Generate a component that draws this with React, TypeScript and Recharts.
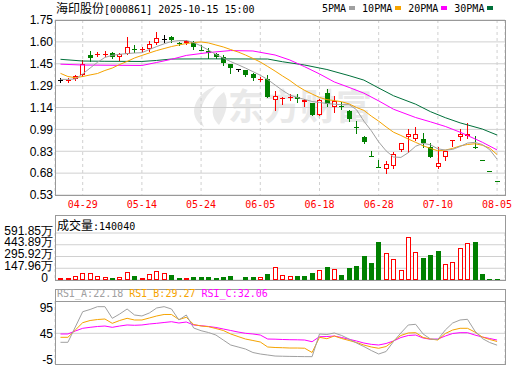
import React from 'react';
import { ComposedChart, Bar, Line, XAxis, YAxis, CartesianGrid, ReferenceLine } from 'recharts';

// date labels under the price panel, and the candle index each sits on
const dateLabels = ['04-29', '05-14', '05-24', '06-05', '06-18', '06-28', '07-10', '08-05'];
const dateTicks = [3, 11, 19, 27, 35, 43, 51, 59];

// daily candles (price, yuan)
const opens = [
  1.33, 1.33, 1.338, 1.37, 1.506, 1.508, 1.512, 1.517, 1.49, 1.515,
  1.545, 1.541, 1.548, 1.588, 1.618, 1.629, 1.59, 1.588, 1.599, 1.541,
  1.534, 1.513, 1.49, 1.443, 1.41, 1.401, 1.374, 1.336, 1.341, 1.195,
  1.205, 1.208, 1.213, 1.18, 1.171, 1.086, 1.243, 1.145, 1.152, 1.118,
  1.006, 0.934, 0.805, 0.726, 0.711, 0.735, 0.846, 0.937, 0.92, 0.92,
  0.863, 0.727, 0.797, 0.909, 0.937, 0.943, 0.867, 0.775, 0.696, 0.627,
];
const highs = [
  1.345, 1.345, 1.367, 1.47, 1.536, 1.525, 1.534, 1.525, 1.52, 1.631,
  1.576, 1.562, 1.606, 1.664, 1.645, 1.638, 1.6, 1.61, 1.606, 1.576,
  1.553, 1.522, 1.506, 1.443, 1.41, 1.404, 1.378, 1.355, 1.367, 1.255,
  1.211, 1.234, 1.234, 1.197, 1.173, 1.197, 1.267, 1.222, 1.176, 1.125,
  1.046, 0.941, 0.837, 0.774, 0.769, 0.832, 0.893, 0.988, 1.004, 0.962,
  0.893, 0.867, 0.84, 0.911, 0.988, 1.03, 0.941, 0.775, 0.696, 0.627,
];
const lows = [
  1.32, 1.318, 1.33, 1.36, 1.464, 1.497, 1.497, 1.483, 1.469, 1.515,
  1.525, 1.525, 1.534, 1.583, 1.595, 1.599, 1.578, 1.585, 1.546, 1.538,
  1.483, 1.485, 1.438, 1.383, 1.397, 1.36, 1.332, 1.327, 1.215, 1.123,
  1.164, 1.192, 1.18, 1.153, 1.085, 1.085, 1.153, 1.107, 1.127, 1.048,
  0.96, 0.895, 0.8, 0.723, 0.686, 0.716, 0.839, 0.828, 0.911, 0.867,
  0.797, 0.716, 0.772, 0.874, 0.913, 0.925, 0.86, 0.774, 0.695, 0.626,
];
const closes = [
  1.33, 1.335, 1.362, 1.443, 1.483, 1.512, 1.516, 1.49, 1.51, 1.562,
  1.541, 1.545, 1.583, 1.627, 1.618, 1.611, 1.587, 1.606, 1.56, 1.538,
  1.518, 1.494, 1.452, 1.415, 1.41, 1.369, 1.346, 1.341, 1.215, 1.218,
  1.209, 1.212, 1.199, 1.19, 1.086, 1.192, 1.162, 1.185, 1.148, 1.058,
  1.0, 0.897, 0.8, 0.723, 0.745, 0.814, 0.89, 0.955, 0.955, 0.89,
  0.797, 0.751, 0.837, 0.911, 0.953, 0.953, 0.863, 0.774, 0.695, 0.626,
];

// moving averages
const ma5 = [
  1.336, 1.336, 1.339, 1.374, 1.415, 1.455, 1.489, 1.504, 1.511, 1.516,
  1.52, 1.522, 1.544, 1.565, 1.584, 1.6, 1.607, 1.607, 1.593, 1.569,
  1.54, 1.51, 1.485, 1.46, 1.438, 1.415, 1.39, 1.365, 1.335, 1.297,
  1.259, 1.227, 1.21, 1.196, 1.182, 1.175, 1.168, 1.163, 1.16, 1.16,
  1.125, 1.045, 0.978, 0.9, 0.838, 0.795, 0.792, 0.825, 0.87, 0.89,
  0.88, 0.852, 0.843, 0.848, 0.868, 0.892, 0.897, 0.882, 0.846, 0.78,
];
const ma10 = [
  1.378, 1.356, 1.348, 1.356, 1.367, 1.377, 1.398, 1.415, 1.44, 1.461,
  1.485, 1.503, 1.52, 1.537, 1.551, 1.565, 1.576, 1.586, 1.593, 1.597,
  1.59, 1.576, 1.562, 1.544, 1.527, 1.506, 1.482, 1.457, 1.426, 1.394,
  1.36, 1.328, 1.29, 1.259, 1.234, 1.21, 1.195, 1.188, 1.18, 1.165,
  1.14, 1.12, 1.08, 1.045, 1.005, 0.968, 0.945, 0.92, 0.897, 0.873,
  0.855, 0.838, 0.843, 0.855, 0.872, 0.882, 0.887, 0.877, 0.857, 0.812,
];
const ma20At = [0, 3, 11, 13, 15, 17, 20, 23, 26, 29, 31, 33, 35, 37, 39, 41, 43, 45, 48, 50, 52, 54, 57, 59];
const ma20Val = [
  1.442, 1.436, 1.433, 1.454, 1.476, 1.503, 1.523, 1.537, 1.534, 1.506, 1.471, 1.424,
  1.374, 1.318, 1.28, 1.24, 1.186, 1.128, 1.07, 1.04, 1.008, 0.968, 0.898, 0.844,
];
const ma30At = [0, 3, 6, 11, 13, 15, 20, 28, 30, 33, 36, 39, 41, 43, 45, 48, 50, 52, 54, 57, 59];
const ma30Val = [
  1.476, 1.464, 1.462, 1.461, 1.468, 1.478, 1.479, 1.478, 1.459, 1.436, 1.405,
  1.362, 1.331, 1.276, 1.222, 1.163, 1.111, 1.069, 1.033, 0.99, 0.948,
];

// volume, 万 shares; 1 = red (up) bar
const volumes = [
  26, 26, 52, 86, 86, 52, 39, 26, 39, 99,
  56, 26, 73, 112, 86, 65, 30, 30, 39, 39,
  39, 30, 43, 52, 9, 39, 39, 35, 78, 166,
  65, 48, 52, 52, 91, 125, 168, 138, 65, 156,
  181, 298, 220, 480, 346, 268, 130, 540, 358, 272,
  311, 363, 203, 229, 397, 462, 480, 78, 13, 14.004,
];
const volUp = [
  1, 1, 1, 1, 1, 1, 1, 0, 1, 1,
  0, 1, 1, 1, 1, 0, 0, 1, 0, 0,
  0, 0, 0, 0, 1, 0, 0, 1, 0, 1,
  1, 1, 0, 0, 0, 1, 0, 1, 0, 0,
  0, 0, 0, 0, 1, 1, 1, 1, 1, 0,
  0, 0, 1, 1, 1, 1, 0, 0, 0, 0,
];

// RSI
const rsiA = [
  27.7, 27.7, 57.1, 86.5, 90.8, 96.2, 96.2, 73.8, 82.1, 91.7,
  80.2, 78.3, 84, 93.7, 96.2, 91.7, 70.6, 80.2, 55.2, 50,
  46.5, 41.7, 32.1, 22.5, 18.7, 14.8, 8.1, 5.2, 3.3, 1.3,
  0.9, 0.6, 0.4, 0.2, 0.1, 43.7, 42.7, 45.6, 40.8, 34,
  26.3, 19.6, 11.9, 5.2, 10, 29.2, 45.6, 61, 62.3, 43.7,
  34, 33.1, 51.3, 64.8, 70.6, 71.9, 49.4, 35, 27.3, 22.18,
];
const rsiB = [
  37.3, 37.3, 51.3, 65.4, 69.6, 71.5, 72.5, 64.2, 69.6, 73.8,
  70.6, 70.6, 74.4, 78.3, 81.2, 81.2, 71.5, 75.8, 61.9, 59,
  57.7, 54.2, 50.4, 43.7, 38.8, 34, 31.2, 28.3, 18.7, 17.7,
  17.3, 16.7, 16.7, 16.3, 8.1, 37.3, 34.6, 39.8, 35, 31.2,
  27.3, 22.5, 18.7, 16.2, 19.6, 30.2, 40.8, 45.6, 46.2, 37,
  34, 32.1, 44.6, 51.3, 54.6, 54.6, 47.5, 37.9, 33.1, 29.27,
];
const rsiC = [
  43.7, 43.7, 49.4, 54.6, 56.5, 58.1, 59, 56.5, 59, 61,
  60.4, 61, 62.9, 64.2, 65.8, 67.3, 64.8, 66.7, 61, 59.6,
  58.1, 56.2, 53.3, 50.4, 47.5, 45, 43.7, 41.7, 34, 33.7,
  33.1, 32.7, 32.5, 32.1, 28.8, 38.5, 38.8, 39.8, 36.9, 33.5,
  30.2, 26.3, 23.8, 22.5, 25.4, 30.2, 36.9, 40.8, 41.7, 36,
  33.5, 34, 39.8, 44.6, 46.2, 46.2, 41.7, 37.9, 35, 32.06,
];

const priceLabels = ['0.53', '0.68', '0.83', '0.99', '1.14', '1.29', '1.45', '1.60', '1.75'];
const volTicks = [0, 147.96, 295.92, 443.89, 591.85];
const rsiTicks = [-5, 45, 95];

const maNames = ['5PMA', '10PMA', '20PMA', '30PMA'];
const maColors = ['#a0a0a0', '#f5a300', '#ff00ff', '#00703a'];

const UP = '#ff0000';
const DOWN = '#008000';
const FLAT = '#000000';
const GRID = '#d0d0d0';
const FRAME = '#999999';
const MONO = "'DejaVu Sans Mono', monospace";
const CJK = "'Noto Sans CJK SC', sans-serif";
const SANS = "'Liberation Sans', Arial, sans-serif";

const X_DOMAIN: [number, number] = [-0.743, 60.07];
const P_MIN = 0.53;
const P_MAX = 1.75;
const priceTicks = priceLabels.map((_, k) => P_MIN + (k * (P_MAX - P_MIN)) / (priceLabels.length - 1));

const ma20Map = new Map(ma20At.map((i, k) => [i, ma20Val[k]]));
const ma30Map = new Map(ma30At.map((i, k) => [i, ma30Val[k]]));

const priceRows = closes.map((c, i) => ({
  i,
  o: opens[i],
  h: highs[i],
  l: lows[i],
  c,
  ma5: ma5[i],
  ma10: ma10[i],
  ma20: ma20Map.has(i) ? ma20Map.get(i) : null,
  ma30: ma30Map.has(i) ? ma30Map.get(i) : null,
}));
const volRows = volumes.map((v, i) => ({ i, v, up: volUp[i] === 1 }));
const rsiRows = rsiA.map((a, i) => ({ i, a, b: rsiB[i], c: rsiC[i] }));

function Candle(props: any) {
  const { x, y, width, height, payload } = props;
  if (!payload || !Number.isFinite(x) || !Number.isFinite(y)) return null;
  const { o, h, l, c } = payload;
  const mid = Math.round(x + width / 2);
  const k = h > l ? height / (h - l) : 0;
  const py = (v: number) => y + (h - v) * k;
  const color = c > o ? UP : c < o ? DOWN : FLAT;
  const t = Math.round(py(Math.max(o, c)));
  const b = Math.round(py(Math.min(o, c)));
  const yTop = Math.round(y);
  const yBot = Math.round(y + height) + 1;
  const wx = mid + 0.5;
  if (b - t < 2) {
    return (
      <g shapeRendering="crispEdges">
        <line x1={wx} x2={wx} y1={yTop} y2={yBot} stroke={color} />
        <line x1={mid - 2} x2={mid + 3} y1={t + 0.5} y2={t + 0.5} stroke={color} />
      </g>
    );
  }
  if (c > o) {
    return (
      <g shapeRendering="crispEdges">
        <line x1={wx} x2={wx} y1={yTop} y2={t} stroke={color} />
        <line x1={wx} x2={wx} y1={b} y2={yBot} stroke={color} />
        <rect x={mid - 1.5} y={t + 0.5} width={4} height={b - t - 1} fill="#fff" stroke={color} />
      </g>
    );
  }
  return (
    <g shapeRendering="crispEdges">
      <line x1={wx} x2={wx} y1={yTop} y2={yBot} stroke={color} />
      <rect x={mid - 2} y={t} width={5} height={b - t} fill={color} />
    </g>
  );
}

function VolBar(props: any) {
  const { x, y, width, height, payload } = props;
  if (!payload || !Number.isFinite(x) || !Number.isFinite(y)) return null;
  const mid = Math.round(x + width / 2);
  const t = Math.round(y);
  const b = Math.round(y + height);
  if (payload.up) {
    return (
      <rect shapeRendering="crispEdges" x={mid - 1.5} y={t + 0.5} width={4} height={Math.max(0, b - t - 1)} fill="#fff" stroke={UP} />
    );
  }
  return <rect shapeRendering="crispEdges" x={mid - 2} y={t} width={5} height={Math.max(1, b - t)} fill={DOWN} />;
}

function VolTick(props: any) {
  const { x, y, payload } = props;
  const v = payload.value;
  const label = v === 0 ? '0' : `${v.toFixed(2)}万`;
  return (
    <text x={v === 0 ? x - 5 : x} y={y - 2.5} dy="0.35em" textAnchor="end" fontSize={12} fontFamily={SANS} fill="#000">
      {label}
    </text>
  );
}

const axisTick = { fontSize: 12, fill: '#000', fontFamily: SANS };

const frame = (top: number, height: number): React.CSSProperties => ({
  position: 'absolute',
  left: 55,
  top,
  width: 451,
  height,
  border: `1px solid ${FRAME}`,
  boxSizing: 'border-box',
  pointerEvents: 'none',
});

export default function App() {
  const last = rsiA.length - 1;
  return (
    <div style={{ position: 'fixed', left: 0, top: 0, width: 520, height: 365, background: '#fff', overflow: 'hidden' }}>
      {/* watermark */}
      <svg width={520} height={200} style={{ position: 'absolute', left: 0, top: 0 }}>
        <path d="M216 86 C194 94 186 116 204 127 C197 113 201 100 216 86 Z" fill="#e9e9e9" />
        <path d="M224 92 C211 101 209 116 219 125 C227 113 229 101 224 92 Z" fill="#e9e9e9" />
        <text x={228} y={120} fontSize={36} fontWeight={700} fontFamily={CJK} fill="#e9e9e9">东方财富</text>
      </svg>

      <div style={{ position: 'absolute', left: 56, top: 1, lineHeight: '14px', fontFamily: MONO, fontSize: 10, color: '#000', whiteSpace: 'pre' }}>
        <span style={{ fontFamily: CJK, fontSize: 12 }}>海印股份</span>[000861] 2025-10-15 15:00
      </div>
      <div style={{ position: 'absolute', left: 322, top: 1, display: 'flex', alignItems: 'center', height: 14, fontFamily: MONO, fontSize: 10, color: '#000' }}>
        {maNames.map((n, k) => (
          <React.Fragment key={n}>
            <span>{n}</span>
            <span style={{ display: 'inline-block', width: 6, height: 4, background: maColors[k], marginLeft: 3, marginRight: 7 }} />
          </React.Fragment>
        ))}
      </div>

      <div style={{ position: 'absolute', left: 0, top: 0 }}>
        <ComposedChart width={520} height={215} data={priceRows} margin={{ top: 20, right: 15, bottom: 0, left: 0 }}>
          <CartesianGrid vertical={false} stroke={GRID} />
          <CartesianGrid horizontal={false} stroke={GRID} strokeDasharray="3 3" />
          <XAxis
            dataKey="i"
            type="number"
            domain={X_DOMAIN}
            allowDataOverflow
            ticks={dateTicks}
            interval={0}
            tickFormatter={(v: number) => dateLabels[dateTicks.indexOf(v)]}
            axisLine={false}
            tickLine={false}
            tickSize={0}
            tickMargin={6}
            height={20}
            tick={{ fill: UP, fontSize: 10, fontFamily: MONO }}
          />
          <YAxis
            type="number"
            domain={[P_MIN, P_MAX]}
            allowDataOverflow
            ticks={priceTicks}
            interval={0}
            tickFormatter={(_v: number, idx: number) => priceLabels[idx]}
            axisLine={false}
            tickLine={false}
            tickSize={0}
            tickMargin={2}
            width={55}
            tick={axisTick}
          />
          <Line dataKey="ma30" stroke={maColors[3]} strokeWidth={1} dot={false} connectNulls isAnimationActive={false} />
          <Line dataKey="ma20" stroke={maColors[2]} strokeWidth={1} dot={false} connectNulls isAnimationActive={false} />
          <Line dataKey="ma10" stroke={maColors[1]} strokeWidth={1} dot={false} isAnimationActive={false} />
          <Line dataKey="ma5" stroke={maColors[0]} strokeWidth={1} dot={false} isAnimationActive={false} />
          <Bar dataKey={(d: any) => [d.l, d.h]} barSize={5} shape={Candle} isAnimationActive={false} />
        </ComposedChart>
      </div>
      <div style={frame(20, 176)} />

      <div style={{ position: 'absolute', left: 0, top: 214 }}>
        <ComposedChart width={520} height={74} data={volRows} margin={{ top: 19, right: 15, bottom: 8, left: 0 }}>
          <CartesianGrid vertical={false} stroke={GRID} />
          <CartesianGrid horizontal={false} stroke={GRID} strokeDasharray="3 3" />
          <XAxis dataKey="i" type="number" domain={X_DOMAIN} allowDataOverflow ticks={dateTicks} interval={0} height={0} tick={false} axisLine={false} tickLine={false} />
          <YAxis type="number" domain={[0, 591.85]} allowDataOverflow ticks={volTicks} interval={0} axisLine={false} tickLine={false} tickSize={0} tickMargin={2} width={55} tick={<VolTick />} />
          <Bar dataKey="v" barSize={5} shape={VolBar} isAnimationActive={false} />
        </ComposedChart>
      </div>
      <div style={frame(215, 66)} />
      <div style={{ position: 'absolute', left: 57, top: 216, lineHeight: '17px', fontFamily: MONO, fontSize: 10, color: '#000', whiteSpace: 'pre' }}>
        <span style={{ fontFamily: CJK, fontSize: 12 }}>成交量</span>:{Math.round(volumes[volumes.length - 1] * 10000)}
      </div>

      <div style={{ position: 'absolute', left: 0, top: 289 }}>
        <ComposedChart width={520} height={76} data={rsiRows} margin={{ top: 12, right: 15, bottom: 1, left: 0 }}>
          <CartesianGrid horizontal={false} stroke={GRID} strokeDasharray="3 3" />
          <ReferenceLine y={45} stroke={GRID} />
          <XAxis dataKey="i" type="number" domain={X_DOMAIN} allowDataOverflow ticks={dateTicks} interval={0} height={0} tick={false} axisLine={false} tickLine={false} />
          <YAxis type="number" domain={[-14, 107.1]} allowDataOverflow ticks={rsiTicks} interval={0} axisLine={false} tickLine={false} tickSize={0} tickMargin={2} width={55} tick={axisTick} />
          <Line dataKey="c" stroke={maColors[2]} strokeWidth={1} dot={false} isAnimationActive={false} />
          <Line dataKey="b" stroke={maColors[1]} strokeWidth={1} dot={false} isAnimationActive={false} />
          <Line dataKey="a" stroke={maColors[0]} strokeWidth={1} dot={false} isAnimationActive={false} />
        </ComposedChart>
      </div>
      <div style={frame(289, 76)} />
      <div style={{ position: 'absolute', left: 55, top: 301, width: 451, height: 1, background: FRAME }} />
      <div style={{ position: 'absolute', left: 57, top: 287, lineHeight: '14px', fontFamily: MONO, fontSize: 10, whiteSpace: 'pre' }}>
        <span style={{ color: maColors[0] }}>RSI_A:{rsiA[last].toFixed(2)}</span>{' '}
        <span style={{ color: maColors[1] }}>RSI_B:{rsiB[last].toFixed(2)}</span>{' '}
        <span style={{ color: maColors[2] }}>RSI_C:{rsiC[last].toFixed(2)}</span>
      </div>
    </div>
  );
}
